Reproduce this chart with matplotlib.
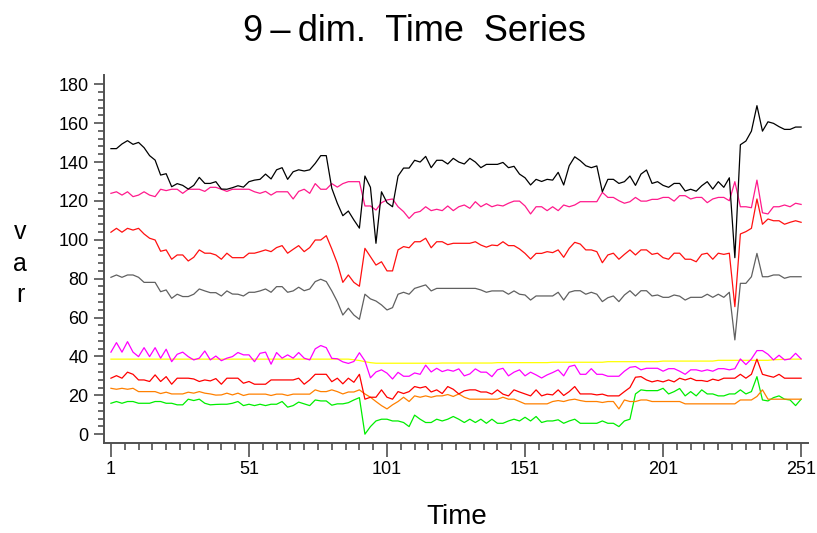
# -*- coding: utf-8 -*-
"""
9-dim. time series, one line per variable
"""

import numpy as np
import matplotlib.pyplot as plt
from matplotlib.ticker import FixedLocator

plt.rcParams['font.family'] = ['Liberation Sans', 'DejaVu Sans']

########################################################### DATA ######################################################################################

# observations every 2 time units, 1 .. 251
time = list(range(1, 252, 2))

black = [146.9, 146.9, 149.3, 151.0, 149.1, 150.1, 147.4, 143.3, 141.0, 133.3,
         134.0, 127.3, 128.9, 128.0, 126.1, 128.0, 132.1, 129.0, 129.0, 129.9,
         126.1, 126.0, 126.8, 127.8, 127.1, 129.9, 130.7, 131.1, 133.8, 131.3,
         136.0, 137.1, 131.1, 135.0, 136.0, 135.4, 136.0, 139.3, 143.3, 143.3,
         126.5, 118.8, 112.4, 114.8, 110.2, 106.0, 132.8, 127.0, 98.2, 124.7,
         119.1, 117.0, 132.8, 136.9, 136.9, 140.9, 140.0, 142.9, 137.1, 140.9,
         140.9, 139.0, 141.9, 140.0, 139.0, 141.9, 140.0, 137.1, 138.8, 138.8,
         138.8, 139.8, 137.1, 137.8, 133.8, 131.9, 128.2, 131.1, 130.0, 131.1,
         130.7, 134.7, 128.2, 138.1, 142.7, 140.7, 138.1, 137.1, 138.0, 124.7,
         131.1, 131.1, 129.0, 129.9, 132.8, 128.0, 133.8, 135.9, 129.0, 129.9,
         128.0, 127.0, 129.0, 129.0, 125.1, 126.0, 125.0, 127.8, 129.9, 126.1,
         129.9, 127.0, 131.9, 90.8, 148.9, 150.8, 155.9, 169.0, 155.9, 160.7,
         159.9, 158.2, 156.8, 156.8, 158.0, 158.0]

pink = [123.9, 124.7, 123.0, 124.7, 122.2, 123.0, 124.7, 123.0, 122.2, 126.0,
        125.3, 126.0, 126.0, 123.9, 126.0, 126.0, 126.0, 124.9, 127.0, 127.0,
        126.0, 124.9, 126.0, 126.0, 126.0, 126.0, 124.7, 123.9, 124.9, 123.0,
        124.7, 124.7, 124.7, 121.0, 124.9, 126.0, 123.9, 128.9, 126.0, 126.0,
        128.9, 127.1, 128.9, 129.9, 129.9, 129.9, 117.4, 117.4, 115.3, 119.1,
        120.5, 121.0, 117.0, 114.5, 111.0, 113.9, 114.6, 117.0, 115.0, 115.7,
        115.0, 117.4, 115.0, 117.0, 117.9, 116.2, 119.6, 117.0, 118.6, 117.0,
        117.9, 117.4, 118.8, 119.9, 119.9, 117.4, 113.3, 117.0, 117.0, 115.0,
        117.0, 115.0, 117.9, 117.0, 117.9, 119.6, 119.6, 119.6, 119.6, 124.4,
        121.8, 121.8, 120.1, 118.8, 119.6, 121.8, 119.9, 119.9, 120.8, 120.8,
        121.8, 121.8, 119.9, 122.7, 122.7, 121.0, 121.8, 121.8, 119.1, 121.0,
        121.8, 121.8, 120.1, 129.9, 117.0, 117.0, 116.5, 130.7, 113.9, 113.3,
        117.0, 117.0, 117.9, 117.0, 118.8, 118.2]

red_hi = [103.9, 105.9, 103.9, 105.9, 105.0, 105.9, 103.0, 100.8, 99.9, 94.1,
          94.8, 90.0, 92.2, 92.2, 89.1, 91.0, 94.8, 93.1, 93.1, 92.2,
          90.0, 93.1, 90.8, 90.8, 90.8, 93.1, 93.1, 93.9, 94.8, 93.9,
          96.0, 97.0, 93.1, 95.1, 97.0, 93.9, 96.0, 99.9, 99.9, 102.1,
          95.3, 87.9, 78.1, 81.9, 78.1, 76.1, 95.6, 91.3, 87.0, 88.7,
          84.0, 84.0, 94.8, 96.5, 95.9, 99.0, 99.0, 100.8, 95.9, 99.0,
          99.0, 97.5, 98.2, 98.2, 98.2, 98.2, 99.0, 97.3, 96.2, 97.3,
          97.0, 99.0, 97.0, 97.0, 95.3, 93.0, 90.1, 93.0, 93.0, 93.9,
          93.4, 94.8, 91.0, 95.6, 98.7, 97.8, 94.8, 94.8, 93.9, 88.2,
          92.2, 93.1, 90.0, 92.5, 94.8, 92.2, 94.8, 94.8, 92.5, 93.1,
          90.8, 90.0, 93.1, 93.1, 90.0, 90.0, 88.7, 92.5, 93.1, 90.0,
          93.1, 92.5, 93.1, 65.6, 103.0, 104.2, 105.9, 121.0, 108.0, 110.7,
          109.8, 109.8, 108.0, 109.0, 109.8, 109.0]

gray = [80.7, 81.9, 80.7, 81.9, 81.9, 80.7, 78.1, 78.1, 78.1, 73.3,
        74.2, 69.9, 72.0, 70.8, 70.8, 72.0, 74.7, 73.7, 72.8, 72.8,
        71.1, 73.7, 72.1, 72.0, 71.1, 73.0, 73.0, 73.7, 74.7, 73.0,
        75.9, 75.9, 73.0, 73.7, 75.6, 73.8, 74.7, 78.5, 79.7, 78.5,
        73.7, 68.2, 61.3, 64.8, 61.3, 59.1, 72.0, 69.6, 68.5, 66.5,
        63.9, 65.1, 72.0, 73.0, 72.0, 75.0, 75.9, 76.8, 73.7, 75.0,
        75.0, 75.0, 75.0, 75.0, 75.0, 75.0, 75.0, 74.2, 73.0, 73.7,
        73.7, 73.7, 72.0, 73.7, 72.0, 71.6, 69.0, 71.1, 71.1, 71.1,
        71.1, 73.0, 69.0, 73.0, 73.8, 73.8, 72.0, 73.0, 72.0, 68.2,
        70.2, 71.1, 68.2, 71.6, 73.8, 71.1, 73.8, 73.8, 71.1, 71.6,
        70.4, 70.4, 71.6, 71.0, 69.0, 70.4, 70.4, 70.4, 72.0, 70.4,
        72.0, 70.4, 73.0, 48.5, 77.6, 77.6, 81.0, 93.0, 81.0, 81.0,
        81.9, 81.9, 80.2, 81.0, 81.0, 81.0]

magenta = [42.2, 47.1, 42.2, 47.6, 42.2, 39.9, 44.5, 39.9, 44.5, 39.1,
           43.7, 37.3, 41.1, 42.2, 39.9, 38.2, 39.1, 42.8, 38.2, 40.2,
           37.8, 39.1, 39.9, 42.0, 40.8, 40.8, 37.3, 41.6, 42.2, 36.0,
           42.0, 39.1, 40.8, 39.1, 42.0, 39.1, 38.2, 43.9, 45.6, 44.5,
           39.0, 38.8, 37.2, 36.4, 37.4, 41.9, 37.7, 29.0, 32.0, 33.1,
           31.4, 28.4, 31.8, 29.8, 29.8, 31.5, 30.8, 35.5, 32.0, 33.9,
           32.2, 33.1, 32.4, 33.6, 30.0, 31.0, 33.6, 31.9, 31.9, 29.6,
           33.1, 33.9, 30.0, 31.9, 33.1, 30.0, 31.9, 30.5, 28.9, 30.5,
           31.7, 33.1, 30.0, 34.8, 35.5, 30.8, 30.8, 33.7, 30.8, 30.8,
           29.8, 29.8, 29.8, 32.4, 34.4, 34.8, 33.1, 33.9, 33.9, 33.9,
           32.4, 33.7, 33.7, 32.4, 30.8, 33.1, 33.1, 32.4, 33.1, 32.4,
           33.7, 33.7, 33.1, 33.7, 38.7, 35.8, 38.7, 43.0, 43.0, 41.1,
           38.2, 40.6, 38.2, 38.7, 41.6, 38.7]

yellow = [38.6] * 44 + [38.3, 37.9, 37.3, 36.8, 36.5] + [36.5] * 11 + \
         [36.6] * 10 + [36.8] * 10 + [37.0] * 10 + [37.3] * 10 + \
         [37.6] * 10 + [38.0] * 10 + [38.3, 38.4, 38.5, 38.6, 38.6, 38.6]

red_lo = [28.8, 30.1, 28.8, 31.9, 30.8, 27.9, 27.9, 27.1, 30.5, 27.1,
          29.6, 25.7, 28.8, 28.8, 28.8, 28.4, 27.1, 27.9, 27.4, 28.6,
          25.7, 28.8, 28.8, 28.8, 26.2, 27.1, 25.7, 25.7, 25.7, 27.9,
          27.9, 27.9, 27.9, 27.9, 28.8, 25.7, 27.9, 30.8, 30.8, 30.8,
          27.0, 28.8, 25.9, 28.8, 26.7, 30.8, 18.0, 19.0, 19.0, 22.8,
          19.0, 18.0, 21.9, 20.9, 21.9, 24.5, 23.8, 24.5, 21.7, 22.8,
          20.9, 24.5, 23.1, 20.7, 22.3, 22.8, 22.8, 21.7, 21.7, 20.6,
          22.8, 20.6, 19.7, 22.8, 21.7, 20.7, 19.7, 22.8, 19.7, 20.6,
          20.2, 22.8, 19.9, 21.9, 24.5, 20.7, 20.7, 20.7, 20.2, 20.6,
          19.7, 19.7, 19.7, 21.9, 24.0, 29.3, 29.6, 27.9, 26.9, 27.6,
          26.9, 27.9, 26.9, 28.8, 27.9, 28.8, 27.6, 27.6, 27.1, 28.3,
          27.6, 28.8, 28.8, 28.8, 30.8, 28.8, 30.8, 38.6, 30.8, 30.0,
          29.3, 30.8, 28.8, 28.8, 28.8, 28.8]

orange = [23.6, 23.1, 23.6, 23.1, 23.6, 21.9, 21.9, 21.9, 21.9, 20.9,
          21.6, 20.7, 20.7, 20.7, 21.6, 21.1, 21.9, 21.1, 20.7, 20.1,
          20.2, 21.1, 20.2, 21.1, 19.9, 20.6, 20.6, 20.6, 20.6, 19.9,
          20.6, 20.6, 19.9, 20.6, 20.6, 20.6, 20.6, 22.8, 21.9, 21.9,
          22.8, 21.9, 20.7, 21.7, 21.7, 22.8, 20.7, 19.0, 16.8, 14.7,
          13.0, 15.1, 16.8, 19.0, 16.8, 19.7, 19.0, 19.7, 19.0, 19.7,
          19.7, 20.4, 19.4, 20.7, 19.0, 18.0, 18.0, 18.0, 18.0, 18.0,
          18.0, 19.0, 18.0, 18.0, 16.8, 15.6, 15.6, 15.6, 15.6, 15.6,
          16.8, 17.3, 16.8, 17.6, 18.0, 17.3, 16.8, 16.8, 16.8, 16.3,
          16.8, 16.8, 13.0, 17.6, 16.8, 16.8, 17.6, 17.6, 16.8, 16.8,
          16.8, 16.8, 16.8, 16.8, 15.6, 15.6, 15.6, 15.6, 15.6, 15.6,
          15.6, 15.6, 15.6, 15.6, 17.6, 17.6, 17.6, 19.4, 22.8, 18.0,
          18.0, 18.0, 18.0, 18.0, 18.0, 18.0]

green = [15.9, 16.8, 15.9, 16.8, 16.8, 15.9, 15.9, 15.9, 16.8, 16.8,
         15.9, 15.9, 15.1, 15.1, 18.0, 17.3, 18.0, 15.9, 15.1, 15.3,
         15.4, 15.4, 15.9, 16.8, 14.7, 15.4, 14.7, 15.4, 14.7, 15.4,
         15.4, 16.8, 13.9, 14.7, 16.5, 15.6, 14.7, 17.6, 17.1, 17.1,
         14.9, 15.6, 15.6, 16.2, 17.6, 18.8, 0.0, 3.9, 6.8, 7.7,
         7.7, 6.8, 6.8, 6.0, 3.9, 9.8, 7.7, 6.0, 6.0, 7.7,
         6.8, 7.7, 9.1, 7.7, 6.0, 7.7, 6.0, 7.7, 5.6, 7.7,
         5.6, 5.6, 6.8, 7.7, 6.8, 8.7, 6.8, 9.1, 6.0, 6.8,
         6.8, 7.4, 5.6, 6.8, 7.7, 5.6, 5.6, 5.6, 5.6, 6.8,
         5.6, 5.6, 3.9, 6.8, 7.7, 20.7, 22.8, 22.4, 22.4, 22.4,
         23.6, 20.7, 21.9, 23.5, 19.7, 21.9, 19.7, 22.8, 20.7, 20.7,
         19.7, 19.7, 20.7, 20.7, 22.8, 20.7, 21.9, 29.6, 17.6, 17.1,
         18.8, 19.7, 18.0, 17.6, 14.7, 18.0]

series = [yellow, green, orange, red_lo, magenta, gray, red_hi, pink, black]
colors = ['#ffff00', '#00ee00', '#ff8000', '#ff0000', '#ff00ff',
          '#606060', '#ff1010', '#ff1a8c', '#000000']

################################################################# PLOT #######################################################################

fig = plt.figure(figsize=(8.17, 5.33), dpi=100)
ax = fig.add_axes([0.127, 0.169, 0.862, 0.690])

for s, c in zip(series, colors):
    ax.plot(time, s, color=c, lw=0.9)

ax.set_xlim(-1.6, 253.5)
ax.set_ylim(-4.5, 184.7)

ax.set_xticks([1, 51, 101, 151, 201, 251])
ax.xaxis.set_minor_locator(FixedLocator(np.arange(1, 252, 5)))
ax.set_yticks(np.arange(0, 181, 20))
ax.yaxis.set_minor_locator(FixedLocator(np.arange(0, 181, 4)))

for side in ['top', 'right']:
    ax.spines[side].set_visible(False)
for side in ['left', 'bottom']:
    ax.spines[side].set_color('#505050')
    ax.spines[side].set_linewidth(1.4)

ax.tick_params(axis='both', which='both', color='#505050', width=1.2, labelsize=13)
ax.tick_params(axis='y', which='major', length=7, pad=4)
ax.tick_params(axis='y', which='minor', length=4)
ax.tick_params(axis='x', which='major', length=10, pad=3)
ax.tick_params(axis='x', which='minor', length=5)

fig.text(0.507, 0.94, '9\u2009\u2013\u2009dim.  Time  Series', ha='center', va='center', fontsize=26)
fig.text(0.025, 0.505, 'v\na\nr', ha='center', va='center', fontsize=18, linespacing=1.4)
fig.text(0.559, 0.03, 'Time', ha='center', va='center', fontsize=20)

fig.savefig('out.png', dpi=100)
